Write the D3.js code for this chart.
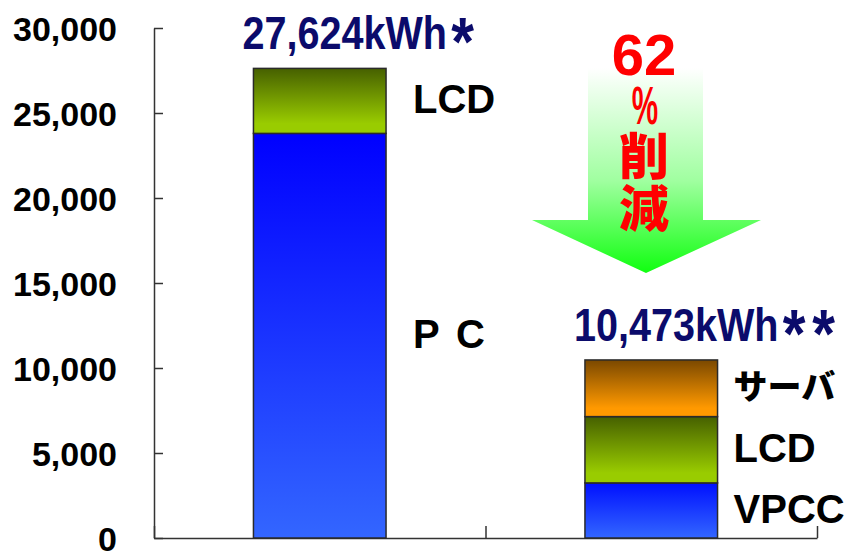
<!DOCTYPE html>
<html>
<head>
<meta charset="utf-8">
<script src="https://cdn.jsdelivr.net/npm/d3@7"></script>
<style>
  html, body { margin: 0; padding: 0; background: #fff; }
  svg { display: block; }
</style>
</head>
<body>
<svg id="chart" width="848" height="552"></svg>
<script>
// Stacked annual power consumption (kWh): conventional PCs vs. VPCC setup
const categories = ["before", "after"];
const stackNames = [["P C", "LCD"], ["VPCC", "LCD", "サーバ"]];
const stackValues = [[23800, 3824], [3240, 3900, 3333]];
const totalLabels = ["27,624kWh*", "10,473kWh**"];
const yTicks = [0, 5000, 10000, 15000, 20000, 25000, 30000];

const W = 848, H = 552;
const svg = d3.select("#chart");
const defs = svg.append("defs");

// vertical fills for each segment kind: [top colour, bottom colour]
const fills = {
  "P C":  ["#0000ff", "#3366ff"],
  "VPCC": ["#0010ff", "#3366ff"],
  "LCD":  ["#466000", "#99cc00"],
  "サーバ": ["#7a4800", "#ff9900"]
};
Object.entries(fills).forEach(([k, c], i) => {
  const g = defs.append("linearGradient").attr("id", "fill" + i)
    .attr("x1", 0).attr("y1", 0).attr("x2", 0).attr("y2", 1);
  const stops = (k === "LCD" || k === "サーバ") ? [[0, c[0]], [0.85, c[1]], [1, c[1]]] : [[0, c[0]], [1, c[1]]];
  stops.forEach(([o, col]) => g.append("stop").attr("offset", o).attr("stop-color", col));
  fills[k].id = "fill" + i;
});

const x = d3.scaleBand().domain(categories).range([154, 817]).paddingInner(0.6).paddingOuter(0.3);
const y = d3.scaleLinear().domain([0, 30000]).range([538, 28]);

// y axis with inward ticks
const yAxis = svg.append("g").attr("transform", "translate(154,0)")
  .call(d3.axisLeft(y).tickValues(yTicks).tickSizeInner(-9).tickSizeOuter(0).tickPadding(37)
    .tickFormat(d3.format(",")));
yAxis.selectAll("path, line").attr("stroke", "#333").attr("stroke-width", 1.5);
yAxis.selectAll("text")
  .attr("font-family", "'Liberation Sans', Arial, sans-serif")
  .attr("font-weight", "bold").attr("font-size", 34).attr("fill", "#000")
  .attr("dy", "0.36em");

// bottom axis: category boundaries with upward ticks
const xEdge = d3.scaleLinear().domain([0, categories.length]).range(x.range());
const xAxis = svg.append("g").attr("transform", `translate(0,${y(0)})`)
  .call(d3.axisBottom(xEdge).ticks(categories.length).tickSizeInner(-12).tickSizeOuter(0).tickFormat(""));
xAxis.selectAll("path, line").attr("stroke", "#333").attr("stroke-width", 1.5);

// stacked bars
const labelFont = "'Liberation Sans', Arial, sans-serif";
const labelGap = [27, 16];
categories.forEach((cat, ci) => {
  const vals = stackValues[ci];
  const names = stackNames[ci];
  const stack = d3.stack().keys(d3.range(vals.length))([vals]);
  const g = svg.append("g");
  stack.forEach((s, si) => {
    const [y0, y1] = s[0];
    g.append("rect")
      .attr("x", x(cat)).attr("width", x.bandwidth())
      .attr("y", y(y1)).attr("height", y(y0) - y(y1))
      .attr("fill", `url(#${fills[names[si]].id})`)
      .attr("stroke", "#2a2a2a").attr("stroke-width", 1.5);
    const jp = /[^\x00-\x7F]/.test(names[si]);
    g.append("text")
      .attr("x", x(cat) + x.bandwidth() + labelGap[ci])
      .attr("y", (y(y0) + y(y1)) / 2 - 2)
      .attr("dy", "0.36em")
      .attr("font-family", jp ? "'Noto Sans CJK JP', sans-serif" : labelFont)
      .attr("font-weight", jp ? 900 : "bold")
      .attr("font-size", jp ? 34 : 40)
      .attr("letter-spacing", names[si] === "P C" ? 3 : 0)
      .attr("fill", "#000")
      .attr("xml:space", "preserve")
      .text(names[si]);
  });
  // total above the bar (condensed), with large centred asterisks as footnote marks
  const total = d3.sum(vals);
  const lbl = totalLabels[ci];
  const main = lbl.replace(/\*+$/, "");
  const marks = lbl.slice(main.length);
  const t = svg.append("text")
    .attr("transform", `translate(${x(cat) - 11},${y(total) - 19}) scale(0.86,1)`)
    .attr("font-family", labelFont)
    .attr("font-weight", "bold").attr("font-size", 46)
    .attr("fill", "#0b0b6b");
  t.append("tspan").text(main);
  t.append("tspan").attr("font-size", 68).attr("dy", 16).attr("dx", 5)
    .attr("letter-spacing", 8).text(marks);
});

// reduction arrow between the two totals
const totals = stackValues.map(v => d3.sum(v));
const pct = Math.round((1 - totals[1] / totals[0]) * 100);
const ag = defs.append("linearGradient").attr("id", "arrowFill")
  .attr("gradientUnits", "userSpaceOnUse").attr("x1", 0).attr("y1", 68).attr("x2", 0).attr("y2", 273);
ag.append("stop").attr("offset", "0%").attr("stop-color", "#ffffff");
ag.append("stop").attr("offset", "55%").attr("stop-color", "#a0ffa0");
ag.append("stop").attr("offset", "100%").attr("stop-color", "#10ff10");
const ax = 646;
svg.append("path")
  .attr("d", `M${ax - 58},68 H${ax + 57} V220 H${ax + 115} L${ax},273 L${ax - 114},220 H${ax - 58} Z`)
  .attr("fill", "url(#arrowFill)");

// vertical caption inside the arrow
svg.append("text").attr("x", ax - 2).attr("y", 75).attr("text-anchor", "middle")
  .attr("font-family", labelFont).attr("font-weight", "bold").attr("font-size", 58)
  .attr("fill", "#ff0000").text(pct);
svg.append("text").attr("transform", `translate(${ax - 1},124) scale(0.55,1)`).attr("text-anchor", "middle")
  .attr("font-family", labelFont).attr("font-weight", "bold").attr("font-size", 54)
  .attr("fill", "#ff0000").text("%");
["削", "減"].forEach((ch, i) => {
  svg.append("text").attr("x", ax - 2).attr("y", 175 + i * 52).attr("text-anchor", "middle")
    .attr("font-family", "'Noto Sans CJK JP', sans-serif").attr("font-weight", 900).attr("font-size", 50)
    .attr("fill", "#ff0000").text(ch);
});
</script>
</body>
</html>
